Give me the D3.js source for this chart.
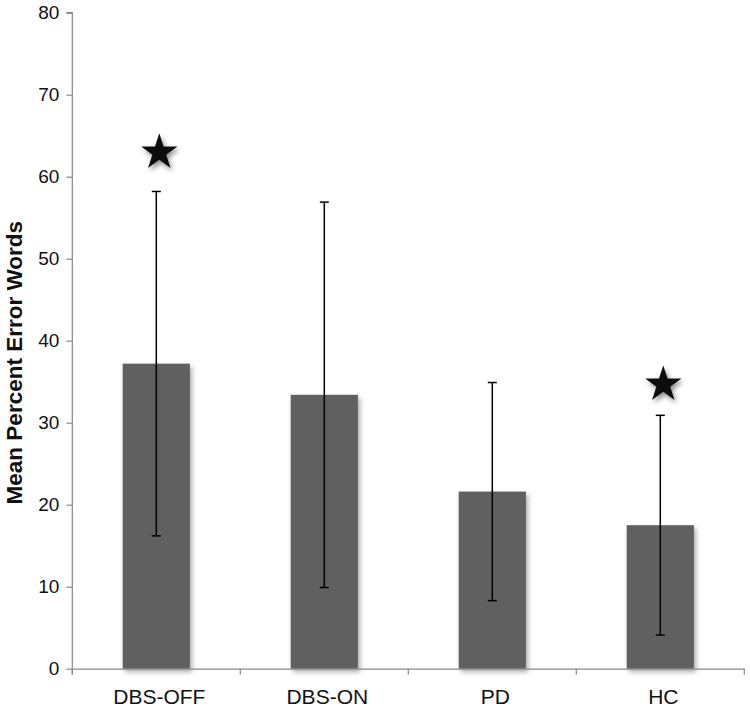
<!DOCTYPE html>
<html>
<head>
<meta charset="utf-8">
<script src="https://cdn.jsdelivr.net/npm/d3@7"></script>
<style>
  html, body { margin: 0; padding: 0; background: #fff; }
  svg { display: block; }
  text { font-family: "Liberation Sans", Arial, Helvetica, sans-serif; }
</style>
</head>
<body>
<svg id="chart" width="750" height="709"></svg>
<script>
// ---- data ----
const categories = ["DBS-OFF", "DBS-ON", "PD", "HC"];
const meanValues = [37.2, 33.4, 21.6, 17.5];
const sdValues = [21.0, 23.5, 13.3, 13.4];
const yTicks = [0, 10, 20, 30, 40, 50, 60, 70, 80];
const starCategories = ["DBS-OFF", "HC"];
const starValues = [63.2, 34.9];
const yTitle = "Mean Percent Error Words";

(function () {
// ---- layout ----
const svg = d3.select("#chart");
const mLeft = 72.3, mRight = 744.3, mTop = 12.7, mBottom = 668.7;

const x = d3.scaleBand().domain(categories).range([mLeft, mRight])
  .paddingInner(0.6).paddingOuter(0.3);
const y = d3.scaleLinear().domain([0, 80]).range([mBottom, mTop]);

const defs = svg.append("defs");
const sh = defs.append("filter").attr("id", "barShadow")
  .attr("x", "-20%").attr("y", "-20%").attr("width", "150%").attr("height", "150%");
sh.append("feDropShadow").attr("dx", 2).attr("dy", 3).attr("stdDeviation", 2.5)
  .attr("flood-color", "#000").attr("flood-opacity", 0.35);
const ss = defs.append("filter").attr("id", "starShadow")
  .attr("x", "-50%").attr("y", "-50%").attr("width", "200%").attr("height", "200%");
ss.append("feDropShadow").attr("dx", 2).attr("dy", 3).attr("stdDeviation", 2.5)
  .attr("flood-color", "#000").attr("flood-opacity", 0.45);

const data = categories.map((c, i) => ({ c, m: meanValues[i], sd: sdValues[i] }));

// bars
svg.append("g").selectAll("rect").data(data).join("rect")
  .attr("x", d => x(d.c))
  .attr("width", x.bandwidth())
  .attr("y", d => y(d.m))
  .attr("height", d => y(0) - y(d.m))
  .attr("fill", "#606060")
  .attr("filter", "url(#barShadow)");

// axes
const axisColor = "#8a8a8a";
const yAxis = svg.append("g").attr("transform", `translate(${mLeft},0)`)
  .call(d3.axisLeft(y).tickValues(yTicks).tickSize(6).tickPadding(7).tickFormat(d3.format("d")));
const xAxis = svg.append("g").attr("transform", `translate(0,${mBottom})`)
  .call(d3.axisBottom(x).tickSize(0).tickPadding(20));

[yAxis, xAxis].forEach(g => {
  g.select(".domain").attr("stroke", axisColor).attr("stroke-width", 1.2);
  g.selectAll(".tick line").attr("stroke", axisColor).attr("stroke-width", 1.2);
});
yAxis.selectAll(".tick text").attr("font-size", 19).attr("fill", "#111");
yAxis.select(".domain").attr("d", `M-6,${mTop}H0V${mBottom + 6}`);
xAxis.selectAll(".tick text").attr("font-size", 21).attr("fill", "#111")
  .attr("dy", "0.71em").attr("dx", 3);

// x band boundary ticks
const bnds = d3.range(categories.length + 1).map(i => mLeft + i * x.step());
svg.append("g").selectAll("line").data(bnds).join("line")
  .attr("x1", d => d).attr("x2", d => d)
  .attr("y1", mBottom).attr("y2", mBottom + 6)
  .attr("stroke", axisColor).attr("stroke-width", 1.2);

// error bars
const eb = svg.append("g").attr("stroke", "#000").attr("stroke-width", 1.5);
const capW = 9;
data.forEach(d => {
  const cx = x(d.c) + x.bandwidth() / 2;
  eb.append("line").attr("x1", cx).attr("x2", cx)
    .attr("y1", y(d.m + d.sd)).attr("y2", y(d.m - d.sd));
  eb.append("line").attr("x1", cx - capW / 2).attr("x2", cx + capW / 2)
    .attr("y1", y(d.m + d.sd)).attr("y2", y(d.m + d.sd));
  eb.append("line").attr("x1", cx - capW / 2).attr("x2", cx + capW / 2)
    .attr("y1", y(d.m - d.sd)).attr("y2", y(d.m - d.sd));
});

// stars
const star = d3.symbol().type(d3.symbolStar).size(410);
svg.append("g").selectAll("path").data(starCategories.map((c, i) => ({ c, v: starValues[i] })))
  .join("path")
  .attr("d", star)
  .attr("transform", d => `translate(${x(d.c) + x.bandwidth() / 2 + 3},${y(d.v) + 2})`)
  .attr("fill", "#111")
  .attr("filter", "url(#starShadow)");

// y title
svg.append("text")
  .attr("transform", `translate(22,${(mTop + mBottom) / 2 + 22}) rotate(-90)`)
  .attr("text-anchor", "middle")
  .attr("font-size", 22.5)
  .attr("font-weight", "bold")
  .attr("fill", "#111")
  .text(yTitle);
})();
</script>
</body>
</html>
